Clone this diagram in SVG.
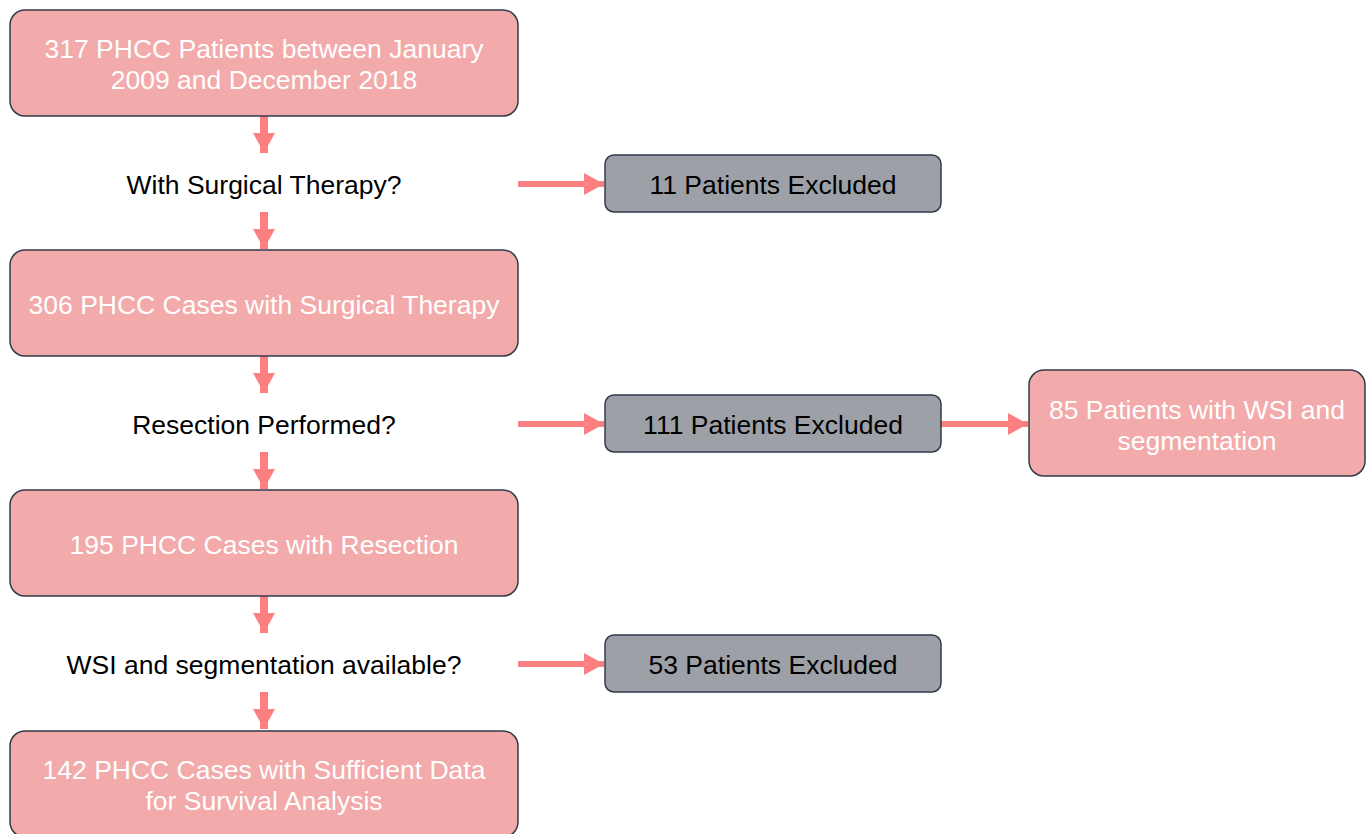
<svg xmlns="http://www.w3.org/2000/svg" width="1369" height="834" viewBox="0 0 1369 834">
<defs>
<style>
.pk{fill:#f2aaaa;stroke:#323a4a;stroke-width:1.5}
.gy{fill:#9da0a7;stroke:#323a4a;stroke-width:1.5}
.tw{fill:#ffffff;font-family:"Liberation Sans",Arial,sans-serif;font-size:26.5px;text-anchor:middle}
.tb{fill:#000000;font-family:"Liberation Sans",Arial,sans-serif;font-size:26.5px;text-anchor:middle}
.ar{stroke:#fc8080;stroke-width:6;fill:none}
.av{stroke:#fc8080;stroke-width:8;fill:none}
</style>
<marker id="ah" markerUnits="userSpaceOnUse" markerWidth="20" markerHeight="22" refX="20" refY="11" orient="auto">
<path d="M0,0 L20,11 L0,22 Z" fill="#fc8080"/>
</marker>
</defs>
<rect width="1369" height="834" fill="#ffffff"/>
<g id="connectors">
<line class="av" x1="264" y1="116" x2="264" y2="153" marker-end="url(#ah)"/>
<line class="av" x1="264" y1="212" x2="264" y2="249" marker-end="url(#ah)"/>
<line class="av" x1="264" y1="356" x2="264" y2="393" marker-end="url(#ah)"/>
<line class="av" x1="264" y1="452" x2="264" y2="489" marker-end="url(#ah)"/>
<line class="av" x1="264" y1="596" x2="264" y2="633" marker-end="url(#ah)"/>
<line class="av" x1="264" y1="692" x2="264" y2="729" marker-end="url(#ah)"/>
<line class="ar" x1="518" y1="184" x2="604" y2="184" marker-end="url(#ah)"/>
<line class="ar" x1="518" y1="424" x2="604" y2="424" marker-end="url(#ah)"/>
<line class="ar" x1="518" y1="664" x2="604" y2="664" marker-end="url(#ah)"/>
<line class="ar" x1="941" y1="424" x2="1028" y2="424" marker-end="url(#ah)"/>
</g>
<g id="n1"><rect class="pk" x="10" y="10" width="508" height="106" rx="15"/>
<text class="tw" x="264" y="57.5">317 PHCC Patients between January</text>
<text class="tw" x="264" y="88.5">2009 and December 2018</text></g>
<g id="q1"><text class="tb" x="264" y="193.5">With Surgical Therapy?</text></g>
<g id="e1"><rect class="gy" x="605" y="155" width="336" height="57" rx="9"/>
<text class="tb" x="773" y="193.5">11 Patients Excluded</text></g>
<g id="n2"><rect class="pk" x="10" y="250" width="508" height="106" rx="15"/>
<text class="tw" x="264" y="313.5">306 PHCC Cases with Surgical Therapy</text></g>
<g id="q2"><text class="tb" x="264" y="433.5">Resection Performed?</text></g>
<g id="e2"><rect class="gy" x="605" y="395" width="336" height="57" rx="9"/>
<text class="tb" x="773" y="433.5">111 Patients Excluded</text></g>
<g id="n85"><rect class="pk" x="1029" y="370" width="336" height="106" rx="15"/>
<text class="tw" x="1197" y="418.5">85 Patients with WSI and</text>
<text class="tw" x="1197" y="449.5">segmentation</text></g>
<g id="n3"><rect class="pk" x="10" y="490" width="508" height="106" rx="15"/>
<text class="tw" x="264" y="553.5">195 PHCC Cases with Resection</text></g>
<g id="q3"><text class="tb" x="264" y="673.5">WSI and segmentation available?</text></g>
<g id="e3"><rect class="gy" x="605" y="635" width="336" height="57" rx="9"/>
<text class="tb" x="773" y="673.5">53 Patients Excluded</text></g>
<g id="n4"><rect class="pk" x="10" y="731" width="508" height="106" rx="15"/>
<text class="tw" x="264" y="778.5">142 PHCC Cases with Sufficient Data</text>
<text class="tw" x="264" y="809.5">for Survival Analysis</text></g>
</svg>
